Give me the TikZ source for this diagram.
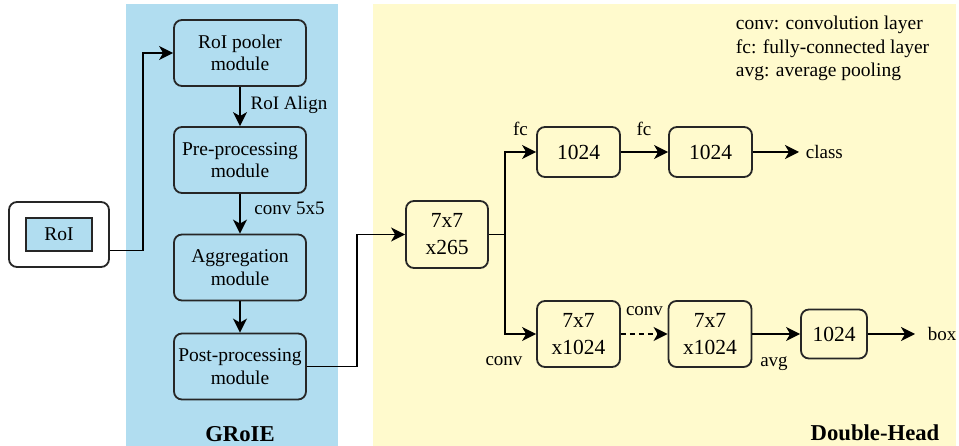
\documentclass[tikz,border=0pt]{standalone}
\usepackage{fontspec}
\setmainfont{Liberation Serif}
\usetikzlibrary{arrows.meta}
\definecolor{groieblue}{HTML}{B1DDF0}
\definecolor{headyellow}{HTML}{FFFACD}
\begin{document}
\begin{tikzpicture}[x=1pt,y=-1pt,line width=1.8pt,
  modbox/.style={draw=black!85, rounded corners=8pt, fill=groieblue, minimum width=132pt, minimum height=66pt, align=center, inner sep=0pt, font=\fontsize{19.5}{22.5}\selectfont},
  numbox/.style={draw=black!85, rounded corners=8pt, fill=headyellow, minimum width=83pt, minimum height=50pt, align=center, inner sep=0pt, font=\fontsize{21.5}{27}\selectfont},
  lbl/.style={font=\fontsize{19}{22}\selectfont, inner sep=0pt},
  title/.style={font=\fontsize{22.7}{26}\selectfont\bfseries, inner sep=0pt},
  arr/.style={-{Stealth[length=14pt,width=14pt,inset=4pt]}}]
\useasboundingbox (0,0) rectangle (959,446);
% panels
\fill[groieblue] (126,4) rectangle (338,446);
\fill[headyellow] (373,4) rectangle (956,446);
% GRoIE side
\node[draw=black!85, rounded corners=8pt, fill=white, minimum width=100pt, minimum height=65pt] (roiouter) at (59,234.5) {};
\node[draw=black!85, fill=groieblue, minimum width=66pt, minimum height=33pt, inner sep=0pt, font=\fontsize{19.5}{22.5}\selectfont] (roi) at (59,234.5) {RoI};
\node[modbox] (pooler) at (240,53) {RoI pooler\\module};
\node[modbox] (pre) at (240,160) {Pre-processing\\module};
\node[modbox] (agg) at (240,267.5) {Aggregation\\module};
\node[modbox] (post) at (240,366.5) {Post-processing\\module};
\node[lbl] (alignlbl) at (289,105) {RoI Align};
\node[lbl] (convlbl) at (289.5,208) {conv 5x5};
\node[title] (groie) at (240,434) {GRoIE};
% Double-Head side
\node[numbox, minimum width=82pt, minimum height=67pt] (feat) at (447,234.5) {7x7\\x265};
\node[numbox] (fca) at (578.5,152) {1024};
\node[numbox] (fcb) at (710.5,152) {1024};
\node[numbox, minimum height=66pt] (conva) at (578.5,334) {7x7\\x1024};
\node[numbox, minimum height=66pt] (convb) at (710,334) {7x7\\x1024};
\node[numbox, minimum width=66pt, minimum height=49pt] (avgfc) at (834,334) {1024};
\node[lbl, anchor=west, inner xsep=6pt] (cls) at (799,152) {class};
\node[lbl, anchor=west, inner xsep=12pt] (boxout) at (915,334) {box};
\node[lbl] (fclbla) at (520.5,129) {fc};
\node[lbl] (fclblb) at (644,129) {fc};
\node[lbl] (convlbla) at (504,361) {conv};
\node[lbl] (convlblb) at (644.5,311.5) {conv};
\node[lbl] (avglbl) at (774,363.5) {avg};
\node[title] (dhead) at (875,432.5) {Double-Head};
\node[lbl, anchor=north west, align=left, font=\fontsize{19.5}{23.5}\selectfont] (legend) at (735,15.5) {conv: convolution layer\\fc: fully-connected layer\\avg: average pooling};
% connectors
\draw[arr] ([yshift=-16pt]roiouter.east) -- ++(33,0) |- (pooler.west);
\draw[arr] (pooler) -- (pre);
\draw[arr] (pre) -- (agg);
\draw[arr] (agg) -- (post);
\draw[arr] (post.east) -- ++(50,0) |- (feat.west);
\draw (feat.east) -- ++(16,0) coordinate (split);
\draw[arr] (split) |- (fca.west);
\draw[arr] (split) |- (conva.west);
\draw[arr] (fca) -- (fcb);
\draw[arr] (fcb) -- (cls);
\draw[arr, dash pattern=on 5pt off 4pt] (conva) -- (convb);
\draw[arr] (convb) -- (avgfc);
\draw[arr] (avgfc) -- (boxout);
\end{tikzpicture}
\end{document}
